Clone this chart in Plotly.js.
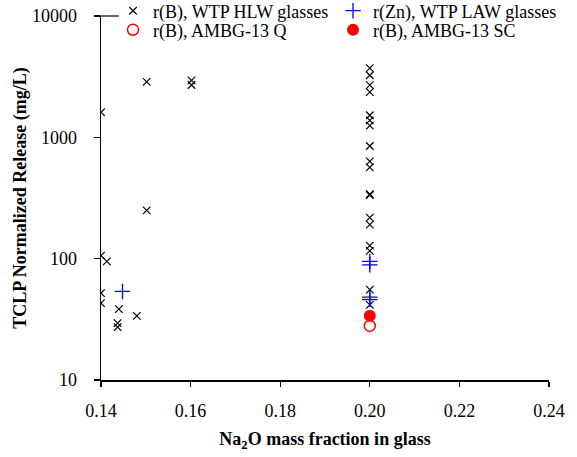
<!DOCTYPE html>
<html>
<head>
<meta charset="utf-8">
<script src="https://cdn.plot.ly/plotly-3.0.1.min.js"></script>
<style>html,body{margin:0;padding:0;background:#fff;}#chart{width:577px;height:457px;}</style>
</head>
<body>
<div id="chart"></div>
<script>
// r(B), WTP HLW glasses
const hlwX = [0.140, 0.140, 0.1413, 0.140, 0.140, 0.1440, 0.1480, 0.1437, 0.1437,
              0.1502, 0.1602, 0.1602, 0.1502,
              0.200, 0.200, 0.200, 0.200, 0.200, 0.200, 0.200, 0.200, 0.200, 0.200,
              0.200, 0.200, 0.200, 0.200, 0.200, 0.200, 0.200, 0.200];
const hlwY = [1610, 106, 95, 52, 43, 38.4, 33.8, 29.4, 27.3,
              2865, 2950, 2700, 250,
              3715, 3250, 2690, 2355, 1520, 1380, 1250, 848, 634, 565,
              340, 335, 218, 191, 128, 116, 55.5, 41.6];
// r(Zn), WTP LAW glasses
const lawX = [0.1448, 0.200, 0.200, 0.200, 0.200];
const lawY = [53.7, 95, 89, 48.2, 46];
// r(B), AMBG-13 Q
const qX = [0.200];
const qY = [27.9];
// r(B), AMBG-13 SC
const scX = [0.200];
const scY = [33.8];

const xTicks = [0.14, 0.16, 0.18, 0.20, 0.22, 0.24];
const xTickText = ["0.14", "0.16", "0.18", "0.20", "0.22", "0.24"];
const yTicks = [10, 100, 1000, 10000];
const yTickText = ["10", "100", "1000", "10000"];

const FONT = "Liberation Serif, Times New Roman, serif";

const traces = [
  {x: hlwX, y: hlwY, type: "scatter", mode: "markers", name: "r(B), WTP HLW glasses",
   marker: {symbol: "x-thin-open", size: 7.5, color: "#000", line: {color: "#000", width: 1.2}}, legend: "legend"},
  {x: lawX, y: lawY, type: "scatter", mode: "markers", name: "r(Zn), WTP LAW glasses",
   marker: {symbol: "cross-thin-open", size: 11, color: "#0000ff", line: {color: "#0000ff", width: 1.3}}, legend: "legend2"},
  {x: qX, y: qY, type: "scatter", mode: "markers", name: "r(B), AMBG-13 Q",
   marker: {symbol: "circle-open", size: 11, color: "#ff0000", line: {color: "#ff0000", width: 1.5}}, legend: "legend3"},
  {x: scX, y: scY, type: "scatter", mode: "markers", name: "r(B), AMBG-13 SC",
   marker: {symbol: "circle", size: 12, color: "#ff0000", line: {color: "#ff0000", width: 0}}, legend: "legend4"}
];

const legendCommon = {
  xanchor: "left", yanchor: "middle", orientation: "v",
  bgcolor: "rgba(0,0,0,0)", font: {family: FONT, size: 18, color: "#000"},
  itemwidth: 30, tracegroupgap: 0
};

const layout = {
  width: 577, height: 457,
  margin: {l: 101, r: 28, t: 16, b: 77, pad: 0, autoexpand: false},
  paper_bgcolor: "#fff", plot_bgcolor: "#fff",
  font: {family: FONT, size: 18, color: "#000"},
  showlegend: true,
  legend: Object.assign({x: 0.0268, y: 1.0137}, legendCommon),
  legend2: Object.assign({x: 0.5179, y: 1.0137}, legendCommon),
  legend3: Object.assign({x: 0.0268, y: 0.9615}, legendCommon),
  legend4: Object.assign({x: 0.5179, y: 0.9615}, legendCommon),
  xaxis: {
    range: [0.14, 0.24], tickvals: xTicks, ticktext: xTickText,
    showgrid: false, zeroline: false, showline: true, linecolor: "#000", linewidth: 1.5,
    ticks: "outside", ticklen: 5, tickwidth: 1.2, tickcolor: "#000",
    tickfont: {family: FONT, size: 18, color: "#000"}, ticklabelstandoff: 9,
    title: {text: "<b>Na<sub>2</sub>O mass fraction in glass</b>", font: {family: FONT, size: 18, color: "#000"}, standoff: 12}
  },
  yaxis: {
    type: "log", range: [1, 4], tickvals: yTicks, ticktext: yTickText,
    showgrid: false, zeroline: false, showline: true, linecolor: "#000", linewidth: 1.5,
    ticks: "outside", ticklen: 6, tickwidth: 1.2, tickcolor: "#000",
    tickfont: {family: FONT, size: 18, color: "#000"}, ticklabelstandoff: 13,
    title: {text: "<b>TCLP Normalized Release (mg/L)</b>", font: {family: FONT, size: 18, color: "#000"}, standoff: 0}
  },
  shapes: [
    {type: "line", xref: "paper", yref: "paper", x0: -0.0134, x1: 0.040, y0: 1, y1: 1,
     line: {color: "#000", width: 1.2}}
  ]
};

Plotly.newPlot("chart", traces, layout, {displayModeBar: false, staticPlot: true});
</script>
</body>
</html>
